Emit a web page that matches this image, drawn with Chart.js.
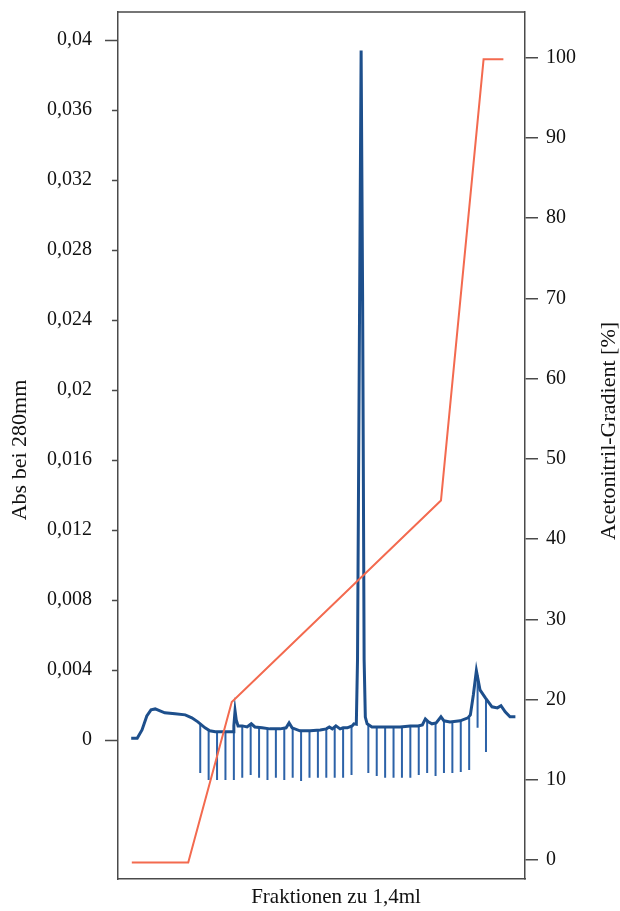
<!DOCTYPE html>
<html lang="de">
  <head>
    <meta charset="utf-8" />
    <title>Chromatogramm</title>
    <style>
      * {
        margin: 0;
        padding: 0;
      }
      body {
        background: #fff;
      }
    </style>
  </head>
  <body>
    <canvas id="myChart" width="620" height="911"></canvas>

    <script src="https://cdn.jsdelivr.net/npm/chart.js"></script>

    <script>
      // elution volume in ml (x) and absorbance at 280 nm
      const absX = [
        2.2, 3.2, 4.0, 4.8, 5.5, 6.2, 7.0, 7.8, 9.5, 11.2, 12.3, 13.3, 14.5,
        15.3, 16.2, 17.8, 19.2, 19.3, 19.5, 19.7, 20.0, 20.7, 21.5, 22.2, 22.8,
        24.0, 25.3, 27.0, 28.0, 28.5, 29.0, 30.3, 32.0, 33.7, 34.7, 35.2, 35.7,
        36.3, 37.0, 37.5, 38.2, 39.0, 39.3, 39.7, 39.9, 40.25, 40.5, 40.75, 41.0,
        41.2, 41.5, 42.3, 43.7, 45.3, 47.0, 48.7, 50.0, 50.7, 51.2, 51.7, 52.3,
        53.0, 53.8, 54.3, 55.3, 57.0, 58.3, 58.7, 59.2, 59.7, 60.3, 61.2, 62.3,
        63.2, 63.8, 64.5, 65.3, 66.2,
      ];
      const absY = [
        0.0001, 0.0001, 0.00057, 0.00137, 0.00172, 0.00177, 0.00166, 0.00155,
        0.00149, 0.00143, 0.00126, 0.00103, 0.00069, 0.00052, 0.00046, 0.00046,
        0.00046, 0.0008, 0.00166, 0.00114, 0.0008, 0.0008, 0.00074, 0.00092,
        0.00074, 0.00069, 0.00063, 0.00063, 0.00069, 0.00097, 0.00069, 0.00052,
        0.00052, 0.00057, 0.00063, 0.00074, 0.00063, 0.0008, 0.00063, 0.00069,
        0.00069, 0.0008, 0.00092, 0.0009, 0.0046, 0.0252, 0.0394, 0.0252, 0.0046,
        0.0013, 0.00092, 0.00074, 0.00074, 0.00074, 0.00074, 0.0008, 0.0008,
        0.00086, 0.0012, 0.00103, 0.00092, 0.00097, 0.00132, 0.00109, 0.00103,
        0.00109, 0.00126, 0.00143, 0.00258, 0.00395, 0.00286, 0.0024, 0.00189,
        0.00183, 0.00195, 0.0016, 0.00132, 0.00132,
      ];

      // acetonitrile gradient in %
      const gradX = [2.3, 11.7, 18.95, 53.8, 60.9, 64.2];
      const gradY = [-0.3, -0.3, 19.7, 44.8, 99.8, 99.8];

      // fraction marks (1,4 ml each): position, top and bottom of the stroke
      const fracX = [
        13.7, 15.1, 16.5, 17.9, 19.3, 20.7, 22.1, 23.5, 24.9, 26.3, 27.7, 29.1,
        30.5, 31.9, 33.3, 34.7, 36.1, 37.5, 38.9, 41.7, 43.1, 44.5, 45.9, 47.3,
        48.7, 50.1, 51.5, 52.9, 54.3, 55.7, 57.1, 58.5, 59.9, 61.3,
      ];
      const fracTop = [
        0.00092, 0.00057, 0.00046, 0.00046, 0.00057, 0.0008, 0.00092, 0.00074,
        0.00063, 0.00063, 0.00063, 0.00063, 0.00052, 0.00052, 0.00057, 0.00063,
        0.00074, 0.00069, 0.0008, 0.00086, 0.00074, 0.00074, 0.00074, 0.00074,
        0.0008, 0.0008, 0.00103, 0.00097, 0.00109, 0.00103, 0.00109, 0.00126,
        0.0037, 0.0024,
      ];
      const fracBottom = [
        -0.00189, -0.00229, -0.00229, -0.00229, -0.00229, -0.00217, -0.002,
        -0.00217, -0.00229, -0.00217, -0.00229, -0.00217, -0.00235, -0.00217,
        -0.00217, -0.00217, -0.00217, -0.00217, -0.002, -0.00189, -0.00206,
        -0.00217, -0.00217, -0.00217, -0.00217, -0.002, -0.00189, -0.00206,
        -0.00189, -0.00189, -0.00183, -0.00172, 0.00069, -0.00069,
      ];

      // tick labels
      const absTicks = [
        0, 0.004, 0.008, 0.012, 0.016, 0.02, 0.024, 0.028, 0.032, 0.036, 0.04,
      ];
      const absTickLabels = [
        "0", "0,004", "0,008", "0,012", "0,016", "0,02", "0,024", "0,028",
        "0,032", "0,036", "0,04",
      ];
      const gradTicks = [0, 10, 20, 30, 40, 50, 60, 70, 80, 90, 100];

      const serif = "'Liberation Serif', 'Times New Roman', serif";
      const axisColor = "#4a4a4a";

      // build point tables
      const absData = absX.map((x, i) => ({ x: x, y: absY[i] }));
      const gradData = gradX.map((x, i) => ({ x: x, y: gradY[i] }));
      const fracData = [];
      fracX.forEach((x, i) => {
        fracData.push({ x: x, y: fracTop[i] });
        fracData.push({ x: x, y: fracBottom[i] });
        fracData.push({ x: x, y: null });
      });

      // frame on top, left tick marks (long at both ends) + axis titles
      const frameAndTitles = {
        id: "frameAndTitles",
        afterDraw(chart) {
          const {
            ctx,
            chartArea: { top, left, right },
          } = chart;
          const yScale = chart.scales.y;
          ctx.save();
          ctx.strokeStyle = axisColor;
          ctx.lineWidth = 1.5;
          ctx.beginPath();
          ctx.moveTo(left, top);
          ctx.lineTo(right, top);
          absTicks.forEach((v, i) => {
            const py = Math.round(yScale.getPixelForValue(v)) + 0.5;
            const len = i === 0 || i === absTicks.length - 1 ? 13 : 6;
            ctx.moveTo(left - len, py);
            ctx.lineTo(left, py);
          });
          ctx.stroke();

          ctx.fillStyle = "#111";
          ctx.textAlign = "center";
          ctx.textBaseline = "middle";
          ctx.font = "21px " + serif;
          ctx.fillText("Fraktionen zu 1,4ml", 336, 897);

          ctx.font = "22px " + serif;
          ctx.translate(20, 450);
          ctx.rotate(-Math.PI / 2);
          ctx.fillText("Abs bei 280mm", 0, 0);
          ctx.restore();

          ctx.save();
          ctx.fillStyle = "#111";
          ctx.font = "22px " + serif;
          ctx.textAlign = "center";
          ctx.textBaseline = "middle";
          ctx.translate(609, 431);
          ctx.rotate(-Math.PI / 2);
          ctx.fillText("Acetonitril-Gradient [%]", 0, 0);
          ctx.restore();
        },
      };

      const config = {
        type: "line",
        data: {
          datasets: [
            {
              label: "Acetonitril",
              data: gradData,
              yAxisID: "y2",
              borderColor: "#f36a4f",
              borderWidth: 2,
              pointRadius: 0,
            },
            {
              label: "Abs 280",
              data: absData,
              yAxisID: "y",
              borderColor: "#1d4f8c",
              borderWidth: 3,
              pointRadius: 0,
            },
            {
              label: "Fraktionen",
              data: fracData,
              yAxisID: "y",
              borderColor: "#2c62a8",
              borderWidth: 2,
              pointRadius: 0,
              spanGaps: false,
            },
          ],
        },
        options: {
          responsive: false,
          animation: false,
          layout: { padding: { top: 12, left: 0, right: 0, bottom: 0 } },
          plugins: {
            legend: { display: false },
            tooltip: { enabled: false },
          },
          scales: {
            x: {
              type: "linear",
              min: 0,
              max: 67.8,
              ticks: { display: false },
              grid: { display: false },
              border: { color: axisColor, width: 1.5 },
              afterFit(scale) {
                scale.height = 32;
                scale.paddingLeft = 0;
                scale.paddingRight = 0;
              },
            },
            y: {
              type: "linear",
              position: "left",
              min: -0.00795,
              max: 0.0416,
              afterBuildTicks(scale) {
                scale.ticks = absTicks.map((v) => ({ value: v }));
              },
              ticks: {
                padding: 26,
                color: "#111",
                font: { family: serif, size: 20 },
                callback: (v, i) => absTickLabels[i],
              },
              grid: {
                drawOnChartArea: false,
                drawTicks: false,
              },
              border: { color: axisColor, width: 1.5 },
              afterFit(scale) {
                scale.width = 118;
                scale.paddingTop = 0;
                scale.paddingBottom = 0;
              },
            },
            y2: {
              type: "linear",
              position: "right",
              min: -2.37,
              max: 105.7,
              afterBuildTicks(scale) {
                scale.ticks = gradTicks.map((v) => ({ value: v }));
              },
              ticks: {
                padding: 8,
                color: "#111",
                font: { family: serif, size: 20 },
                callback: (v) => String(v),
              },
              grid: {
                drawOnChartArea: false,
                drawTicks: true,
                tickLength: 13,
                color: axisColor,
                lineWidth: 1.5,
              },
              border: { color: axisColor, width: 1.5 },
              afterFit(scale) {
                scale.width = 95;
                scale.paddingTop = 0;
                scale.paddingBottom = 0;
              },
            },
          },
        },
        plugins: [frameAndTitles],
      };

      const ctx = document.getElementById("myChart");
      const myChart = new Chart(ctx, config);
    </script>
  </body>
</html>
